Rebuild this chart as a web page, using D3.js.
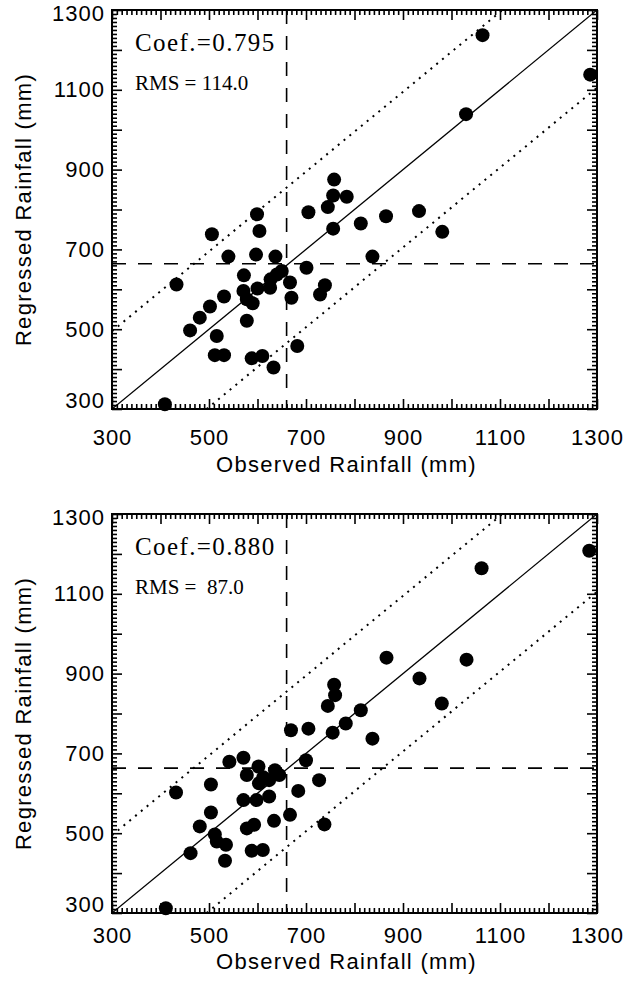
<!DOCTYPE html>
<html><head><meta charset="utf-8">
<script src="https://cdn.jsdelivr.net/npm/d3@7"></script>
<style>
html,body{margin:0;padding:0;background:#fff;}
svg{display:block;}
.tick text{font-family:"Liberation Sans",Arial,sans-serif;font-size:22px;letter-spacing:1px;fill:#000;}
</style></head><body>
<svg id="chart" width="625" height="991"></svg>
<script>
// ---- data ----
const observedTop  = [1064,1286,1030,865,933,813,981,837,758,756,784,745,705,599,604,506,756,540,597,637,433,572,701,667,670,739,729,531,502,481,461,571,578,590,600,626,627,640,578,516,512,531,588,610,633,682,409,650];
const regressedTop = [1237,1138,1039,783,796,765,744,682,875,835,832,806,793,788,746,738,752,682,687,682,612,635,654,617,579,610,587,582,557,529,497,596,575,565,602,604,625,637,521,483,435,435,427,433,404,458,312,646];
const observedBottom  = [1062,1284,866,1031,934,980,813,837,758,760,745,782,755,669,705,700,571,542,602,578,636,645,624,727,684,504,432,571,598,624,504,481,512,516,535,533,462,578,593,634,667,588,611,738,411,603,612];
const regressedBottom = [1164,1208,940,935,888,825,808,737,872,846,819,775,752,758,762,683,689,679,667,646,658,646,633,633,606,622,602,583,583,592,552,517,497,479,471,431,450,512,521,531,546,456,458,522,312,625,640];
const coefLabels = ["Coef.=0.795", "Coef.=0.880"];
const rmsLabels  = ["RMS = 114.0", "RMS =  87.0"];
const meanObserved  = [660, 660];
const meanRegressed = [664, 663];
const bandOffset = 195;
const axisDomain = [300, 1300];
const majorTicks = d3.range(300, 1301, 100);
const labelTicks = [300, 500, 700, 900, 1100, 1300];
const minorTicks = d3.range(300, 1301, 10).filter(v => v % 100 !== 0);
const xTitle = "Observed Rainfall (mm)";
const yTitle = "Regressed Rainfall (mm)";

// ---- layout ----
const svg = d3.select("#chart");
svg.append("rect").attr("width",625).attr("height",991).attr("fill","#fff");
const left = 112, right = 597;
const majorLen = 10, minorLen = 5;
const panels = [
  {top:10,  bottom:409, obs:observedTop,    reg:regressedTop,    xLabelPad:20, xTitleY:472},
  {top:514, bottom:913, obs:observedBottom, reg:regressedBottom, xLabelPad:14, xTitleY:969}
];

panels.forEach((p, i) => {
  const x = d3.scaleLinear().domain(axisDomain).range([left, right]);
  const y = d3.scaleLinear().domain(axisDomain).range([p.bottom, p.top]);
  const g = svg.append("g");
  const clipId = "clip" + i;
  svg.append("clipPath").attr("id", clipId).append("rect")
    .attr("x", left).attr("y", p.top).attr("width", right-left).attr("height", p.bottom-p.top);

  const lines = g.append("g").attr("clip-path", `url(#${clipId})`);
  lines.append("line")
    .attr("x1", x(axisDomain[0])).attr("y1", y(axisDomain[0]))
    .attr("x2", x(axisDomain[1])).attr("y2", y(axisDomain[1]))
    .attr("stroke","#000").attr("stroke-width",1.3);
  [[axisDomain[0], axisDomain[0]+bandOffset, axisDomain[1]-bandOffset, axisDomain[1]],
   [axisDomain[0]+bandOffset, axisDomain[0], axisDomain[1], axisDomain[1]-bandOffset]].forEach(c => {
    lines.append("line")
      .attr("x1", x(c[0])).attr("y1", y(c[1]))
      .attr("x2", x(c[2])).attr("y2", y(c[3]))
      .attr("stroke","#000").attr("stroke-width",2).attr("stroke-dasharray","2,5.5");
  });
  lines.append("line")
    .attr("x1", x(meanObserved[i])).attr("x2", x(meanObserved[i]))
    .attr("y1", p.top).attr("y2", p.bottom)
    .attr("stroke","#000").attr("stroke-width",1.6).attr("stroke-dasharray","14,12");
  lines.append("line")
    .attr("x1", left).attr("x2", right)
    .attr("y1", y(meanRegressed[i])).attr("y2", y(meanRegressed[i]))
    .attr("stroke","#000").attr("stroke-width",1.6).attr("stroke-dasharray","14,12");

  // axes with inward major and minor ticks on all four sides
  const fmt = d => labelTicks.includes(d) ? d3.format("d")(d) : "";
  const axB = g.append("g").attr("class","axis").attr("transform",`translate(0,${p.bottom})`)
    .call(d3.axisBottom(x).tickValues(majorTicks).tickSize(-majorLen).tickSizeOuter(0).tickPadding(p.xLabelPad).tickFormat(fmt));
  g.append("g").attr("class","axis").attr("transform",`translate(0,${p.bottom})`)
    .call(d3.axisBottom(x).tickValues(minorTicks).tickSize(-minorLen).tickSizeOuter(0).tickFormat(""));
  const axL = g.append("g").attr("class","axis").attr("transform",`translate(${left},0)`)
    .call(d3.axisLeft(y).tickValues(majorTicks).tickSize(-majorLen).tickSizeOuter(0).tickPadding(7).tickFormat(fmt));
  g.append("g").attr("class","axis").attr("transform",`translate(${left},0)`)
    .call(d3.axisLeft(y).tickValues(minorTicks).tickSize(-minorLen).tickSizeOuter(0).tickFormat(""));
  g.append("g").attr("class","axis").attr("transform",`translate(0,${p.top})`)
    .call(d3.axisTop(x).tickValues(majorTicks).tickSize(-majorLen).tickSizeOuter(0).tickFormat(""));
  g.append("g").attr("class","axis").attr("transform",`translate(0,${p.top})`)
    .call(d3.axisTop(x).tickValues(minorTicks).tickSize(-minorLen).tickSizeOuter(0).tickFormat(""));
  g.append("g").attr("class","axis").attr("transform",`translate(${right},0)`)
    .call(d3.axisRight(y).tickValues(majorTicks).tickSize(-majorLen).tickSizeOuter(0).tickFormat(""));
  g.append("g").attr("class","axis").attr("transform",`translate(${right},0)`)
    .call(d3.axisRight(y).tickValues(minorTicks).tickSize(-minorLen).tickSizeOuter(0).tickFormat(""));
  g.selectAll(".domain").remove();
  g.selectAll(".tick line").attr("stroke","#000").attr("stroke-width",1.6);
  axL.selectAll(".tick").filter(d => d === axisDomain[0]).select("text").attr("y", -9);
  axL.selectAll(".tick").filter(d => d === axisDomain[1]).select("text").attr("y", 3);

  g.append("rect").attr("x",left).attr("y",p.top).attr("width",right-left).attr("height",p.bottom-p.top)
    .attr("fill","none").attr("stroke","#000").attr("stroke-width",2);

  g.append("g").selectAll("circle").data(p.obs.map((o,k)=>[o,p.reg[k]])).join("circle")
    .attr("cx", d => x(d[0])).attr("cy", d => y(d[1])).attr("r", 7).attr("fill","#000");

  g.append("text").attr("x", left+23).attr("y", p.top+41)
    .attr("font-family","'Liberation Serif','Times New Roman',serif").attr("font-size",25)
    .attr("letter-spacing",1.4).text(coefLabels[i]);
  g.append("text").attr("x", left+23).attr("y", p.top+80)
    .attr("font-family","'Liberation Serif','Times New Roman',serif").attr("font-size",21)
    .style("white-space","pre").text(rmsLabels[i]);

  g.append("text").attr("x", (left+right)/2 - 8).attr("y", p.xTitleY)
    .attr("text-anchor","middle").attr("font-family","'Liberation Sans',Arial,sans-serif")
    .attr("font-size",22).attr("letter-spacing",1.3).text(xTitle);
  g.append("text").attr("transform",`translate(31,${(p.top+p.bottom)/2}) rotate(-90)`)
    .attr("text-anchor","middle").attr("font-family","'Liberation Sans',Arial,sans-serif")
    .attr("font-size",22).attr("letter-spacing",1.3).text(yTitle);
});
</script>
</body></html>
